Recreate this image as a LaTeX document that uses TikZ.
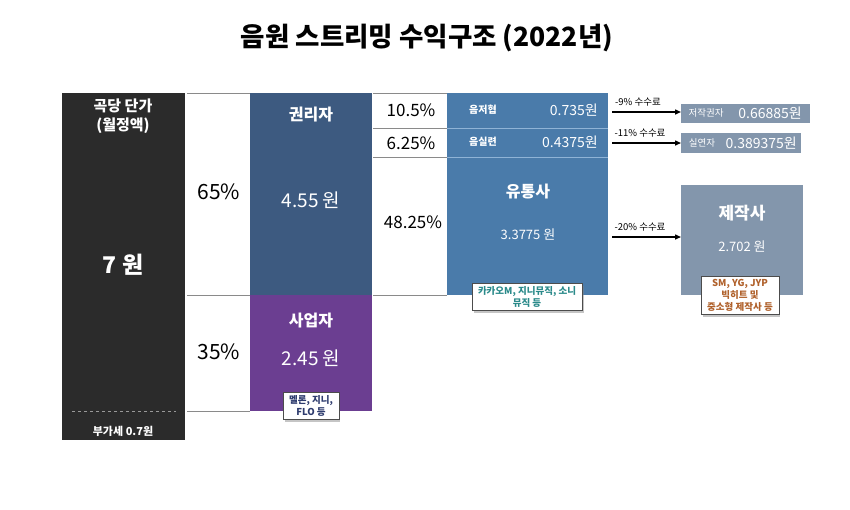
\documentclass[tikz,border=0pt]{standalone}
\usepackage{fontspec}
\setmainfont{Noto Sans CJK KR}
\usetikzlibrary{shadows,arrows.meta}
\definecolor{boxblack}{HTML}{2B2B2B}
\definecolor{rightsblue}{HTML}{3D5A80}
\definecolor{bizpurple}{HTML}{6B3E91}
\definecolor{distblue}{HTML}{4A7BAA}
\definecolor{distline}{HTML}{8FB3D6}
\definecolor{grayblue}{HTML}{8396AC}
\definecolor{rulegray}{HTML}{8A8A8A}
\definecolor{notenavy}{HTML}{2E3C6E}
\definecolor{noteteal}{HTML}{2A8A8A}
\definecolor{noteorange}{HTML}{B0612B}
\newcommand{\fs}[1]{\fontsize{#1}{#1}\selectfont}
\begin{document}
\begin{tikzpicture}[x=1pt,y=-1pt,
  panel/.style={anchor=north west, inner sep=0pt, outer sep=0pt, draw=none},
  wt/.style={text=white, inner sep=0pt},
  bt/.style={text=black, inner sep=0pt},
  rule/.style={draw=rulegray, line width=0.8pt},
  note/.style={fill=white, draw=black!70, line width=0.5pt, align=center,
    inner xsep=6pt, inner ysep=3pt, drop shadow={shadow xshift=1.5pt, shadow yshift=-2.5pt, opacity=0.45},
    font=\fontsize{9.5}{12}\selectfont\bfseries},
  arr/.style={-{Triangle[length=6pt,width=5pt]}, line width=1.4pt, black}
]
\useasboundingbox (0,0) rectangle (850,509);
\fill[white] (0,0) rectangle (850,509);

% title
\node[bt] (title) at (427,38) {\fs{26.5}\bfseries 음원 스트리밍 수익구조 (2022년)};

% price column
\node[panel, fill=boxblack, minimum width=123pt, minimum height=347pt] (price) at (62,93) {};
\node[wt, align=center] (pricehead) at (123,116) {\fs{15}\bfseries 곡당 단가\\[4pt]\fs{15}\bfseries (월정액)};
\node[wt] (pricev) at (123,265) {\fs{23}\bfseries 7 원};
\coordinate (dl) at (72,411);
\coordinate (dr) at (176,411);
\draw[draw=white!60!black, dashed, line width=0.8pt] (dl) -- (dr);
\node[wt] (vat) at (123,431) {\fs{11}\bfseries 부가세 0.7원};

% rules between price and split
\coordinate (r1a) at (187,93);  \coordinate (r1b) at (250,93);
\coordinate (r2a) at (187,295); \coordinate (r2b) at (250,295);
\coordinate (r3a) at (187,411); \coordinate (r3b) at (250,411);
\draw[rule] (r1a) -- (r1b);
\draw[rule] (r2a) -- (r2b);
\draw[rule] (r3a) -- (r3b);
\node[bt] (p65) at (219,192) {\fs{21}65\%};
\node[bt] (p35) at (219,352) {\fs{21}35\%};

% rights holders / business
\node[panel, fill=rightsblue, minimum width=122pt, minimum height=202pt] (rights) at (250,93) {};
\node[wt] (rightst) at (311,115) {\fs{16}\bfseries 권리자};
\node[wt] (rightsv) at (311,200) {\fs{19}4.55 원};
\node[panel, fill=bizpurple, minimum width=122pt, minimum height=116pt] (biz) at (250,295) {};
\node[wt] (bizt) at (311,321) {\fs{16}\bfseries 사업자};
\node[wt] (bizv) at (311,358) {\fs{19}2.45 원};
\node[note, text=notenavy] (biznote) at (311,406) {멜론, 지니,\\FLO 등};

% rules between rights and distribution
\coordinate (s1a) at (373,93);  \coordinate (s1b) at (447,93);
\coordinate (s2a) at (373,128); \coordinate (s2b) at (447,128);
\coordinate (s3a) at (373,157); \coordinate (s3b) at (447,157);
\coordinate (s4a) at (373,295); \coordinate (s4b) at (447,295);
\draw[rule] (s1a) -- (s1b);
\draw[rule] (s2a) -- (s2b);
\draw[rule] (s3a) -- (s3b);
\draw[rule] (s4a) -- (s4b);
\node[bt] (p105) at (411,110) {\fs{17}10.5\%};
\node[bt] (p625) at (411,143) {\fs{17}6.25\%};
\node[bt] (p4825) at (413,222) {\fs{17}48.25\%};

% distribution block
\node[panel, fill=distblue, minimum width=161pt, minimum height=202pt] (dist) at (447,93) {};
\coordinate (dla) at (447,128); \coordinate (dlb) at (608,128);
\coordinate (dma) at (447,157); \coordinate (dmb) at (608,157);
\draw[draw=distline, line width=0.8pt] (dla) -- (dlb);
\draw[draw=distline, line width=0.8pt] (dma) -- (dmb);
\node[wt] (kmca) at (483,110) {\fs{10}\bfseries 음저협};
\node[wt, anchor=east] (kmcav) at (598,110) {\fs{14}0.735원};
\node[wt] (fkmp) at (483,142) {\fs{10}\bfseries 음실련};
\node[wt, anchor=east] (fkmpv) at (598,142) {\fs{14}0.4375원};
\node[wt] (distt) at (528,192) {\fs{16}\bfseries 유통사};
\node[wt] (distv) at (528,235) {\fs{13}3.3775 원};
\node[note, text=noteteal] (distnote) at (527,297) {카카오M, 지니뮤직, 소니\\뮤직 등};

% right column
\node[panel, fill=grayblue, minimum width=129pt, minimum height=19pt] (author) at (681,104) {};
\node[wt] (authort) at (706,113) {\fs{9.5}저작권자};
\node[wt, anchor=east] (authorv) at (802,113) {\fs{14}0.66885원};
\node[panel, fill=grayblue, minimum width=120pt, minimum height=20pt] (perf) at (681,133) {};
\node[wt] (perft) at (702,143) {\fs{9.5}실연자};
\node[wt, anchor=east] (perfv) at (797,143) {\fs{14}0.389375원};
\node[panel, fill=grayblue, minimum width=122pt, minimum height=110pt] (prod) at (681,185) {};
\node[wt] (prodt) at (742,213) {\fs{17}\bfseries 제작사};
\node[wt] (prodv) at (742,247) {\fs{13}2.702 원};
\node[note, text=noteorange] (prodnote) at (740,295) {SM, YG, JYP\\빅히트 및\\중소형 제작사 등};

% arrows
\coordinate (a1) at (612,112);
\coordinate (a2) at (612,143);
\coordinate (a3) at (612,237);
\draw[arr] (a1) -- (a1 -| author.west);
\draw[arr] (a2) -- (a2 -| perf.west);
\draw[arr] (a3) -- (a3 -| prod.west);
\node[bt] (f9) at (638,102) {\fs{9.5}-9\% 수수료};
\node[bt] (f11) at (640,133) {\fs{9.5}-11\% 수수료};
\node[bt] (f20) at (640,227) {\fs{9.5}-20\% 수수료};
\end{tikzpicture}
\end{document}
